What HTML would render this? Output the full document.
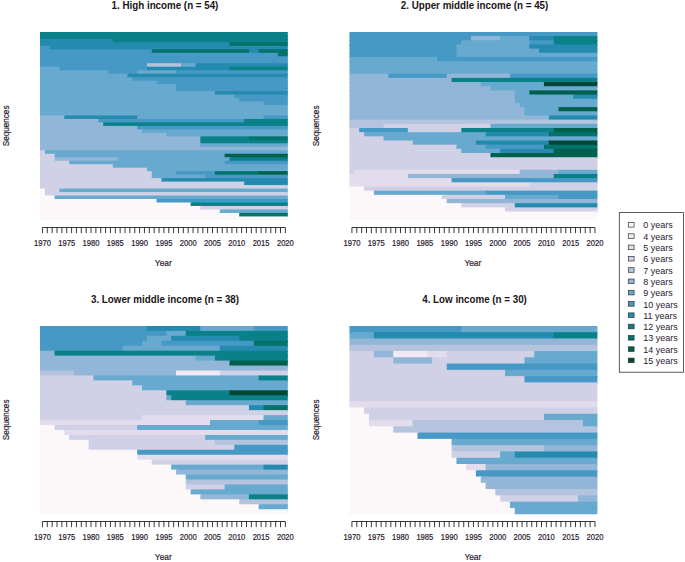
<!DOCTYPE html>
<html><head><meta charset="utf-8"><title>Sequence index plots</title>
<style>
html,body{margin:0;padding:0;background:#fff;}
body{width:685px;height:562px;overflow:hidden;font-family:"Liberation Sans",sans-serif;}
svg{display:block;font-family:"Liberation Sans",sans-serif;}
.tk{font-size:8.6px;fill:#2a2030;text-anchor:middle;stroke:#2a2030;stroke-width:0.2px;}
.al{font-size:9px;fill:#2a2030;text-anchor:middle;stroke:#2a2030;stroke-width:0.2px;}
.sq{font-size:8.4px;fill:#2a2030;text-anchor:middle;stroke:#2a2030;stroke-width:0.2px;}
.tt{font-size:10.2px;font-weight:bold;fill:#1a1418;text-anchor:middle;}
.lg{font-size:9.6px;fill:#2a2030;}
</style></head><body>
<svg width="685" height="562" viewBox="0 0 685 562">
<rect width="685" height="562" fill="#fff"/>
<clipPath id="c0"><rect x="40.00" y="31.90" width="247.80" height="188.00"/></clipPath>
<g clip-path="url(#c0)"><rect x="38.00" y="29.90" width="251.80" height="6.98" fill="#0A8089"/><rect x="38.00" y="35.38" width="251.80" height="4.98" fill="#0A8089"/><rect x="38.00" y="38.86" width="76.38" height="4.98" fill="#258BAE"/><rect x="112.88" y="38.86" width="176.92" height="4.98" fill="#0A8089"/><rect x="38.00" y="42.34" width="192.99" height="4.98" fill="#258BAE"/><rect x="229.49" y="42.34" width="60.31" height="4.98" fill="#017369"/><rect x="38.00" y="45.83" width="13.22" height="4.98" fill="#4698C5"/><rect x="49.72" y="45.83" width="240.08" height="4.98" fill="#258BAE"/><rect x="38.00" y="49.31" width="115.25" height="4.98" fill="#4698C5"/><rect x="151.75" y="49.31" width="98.68" height="4.98" fill="#017369"/><rect x="248.93" y="49.31" width="11.22" height="4.98" fill="#258BAE"/><rect x="258.65" y="49.31" width="31.15" height="4.98" fill="#017369"/><rect x="38.00" y="52.79" width="241.58" height="4.98" fill="#4698C5"/><rect x="278.08" y="52.79" width="11.72" height="4.98" fill="#017369"/><rect x="38.00" y="56.27" width="251.80" height="4.98" fill="#4698C5"/><rect x="38.00" y="59.75" width="251.80" height="4.98" fill="#4698C5"/><rect x="38.00" y="63.23" width="110.39" height="4.98" fill="#4698C5"/><rect x="146.89" y="63.23" width="35.51" height="4.98" fill="#B4C4DF"/><rect x="180.91" y="63.23" width="16.08" height="4.98" fill="#67A9CF"/><rect x="195.48" y="63.23" width="94.32" height="4.98" fill="#258BAE"/><rect x="38.00" y="66.71" width="22.94" height="4.98" fill="#67A9CF"/><rect x="59.44" y="66.71" width="88.96" height="4.98" fill="#4698C5"/><rect x="146.89" y="66.71" width="84.10" height="4.98" fill="#258BAE"/><rect x="229.49" y="66.71" width="60.31" height="4.98" fill="#0A8089"/><rect x="38.00" y="70.20" width="71.52" height="4.98" fill="#67A9CF"/><rect x="108.02" y="70.20" width="30.65" height="4.98" fill="#4698C5"/><rect x="137.18" y="70.20" width="40.37" height="4.98" fill="#67A9CF"/><rect x="176.05" y="70.20" width="113.75" height="4.98" fill="#4698C5"/><rect x="38.00" y="73.68" width="90.96" height="4.98" fill="#67A9CF"/><rect x="127.46" y="73.68" width="162.34" height="4.98" fill="#258BAE"/><rect x="38.00" y="77.16" width="95.82" height="4.98" fill="#67A9CF"/><rect x="132.32" y="77.16" width="157.48" height="4.98" fill="#4698C5"/><rect x="38.00" y="80.64" width="120.11" height="4.98" fill="#67A9CF"/><rect x="156.61" y="80.64" width="133.19" height="4.98" fill="#4698C5"/><rect x="38.00" y="84.12" width="139.55" height="4.98" fill="#67A9CF"/><rect x="176.05" y="84.12" width="113.75" height="4.98" fill="#4698C5"/><rect x="38.00" y="87.60" width="139.55" height="4.98" fill="#67A9CF"/><rect x="176.05" y="87.60" width="113.75" height="4.98" fill="#4698C5"/><rect x="38.00" y="91.09" width="178.42" height="4.98" fill="#67A9CF"/><rect x="214.92" y="91.09" width="74.88" height="4.98" fill="#258BAE"/><rect x="38.00" y="94.57" width="197.85" height="4.98" fill="#67A9CF"/><rect x="234.35" y="94.57" width="55.45" height="4.98" fill="#4698C5"/><rect x="38.00" y="98.05" width="202.71" height="4.98" fill="#67A9CF"/><rect x="239.21" y="98.05" width="50.59" height="4.98" fill="#4698C5"/><rect x="38.00" y="101.53" width="227.01" height="4.98" fill="#67A9CF"/><rect x="263.51" y="101.53" width="26.29" height="4.98" fill="#4698C5"/><rect x="38.00" y="105.01" width="251.80" height="4.98" fill="#67A9CF"/><rect x="38.00" y="108.49" width="251.80" height="4.98" fill="#67A9CF"/><rect x="38.00" y="111.97" width="251.80" height="4.98" fill="#67A9CF"/><rect x="38.00" y="115.46" width="27.79" height="4.98" fill="#91B6D7"/><rect x="64.29" y="115.46" width="74.38" height="4.98" fill="#258BAE"/><rect x="137.18" y="115.46" width="127.83" height="4.98" fill="#67A9CF"/><rect x="263.51" y="115.46" width="26.29" height="4.98" fill="#4698C5"/><rect x="38.00" y="118.94" width="61.81" height="4.98" fill="#91B6D7"/><rect x="98.31" y="118.94" width="147.26" height="4.98" fill="#4698C5"/><rect x="244.07" y="118.94" width="45.73" height="4.98" fill="#0A8089"/><rect x="38.00" y="122.42" width="66.66" height="4.98" fill="#91B6D7"/><rect x="103.16" y="122.42" width="186.64" height="4.98" fill="#0A8089"/><rect x="38.00" y="125.90" width="100.68" height="4.98" fill="#91B6D7"/><rect x="137.18" y="125.90" width="152.62" height="4.98" fill="#4698C5"/><rect x="38.00" y="129.38" width="105.54" height="4.98" fill="#91B6D7"/><rect x="142.04" y="129.38" width="147.76" height="4.98" fill="#67A9CF"/><rect x="38.00" y="132.86" width="129.83" height="4.98" fill="#91B6D7"/><rect x="166.33" y="132.86" width="123.47" height="4.98" fill="#67A9CF"/><rect x="38.00" y="136.34" width="163.84" height="4.98" fill="#91B6D7"/><rect x="200.34" y="136.34" width="50.09" height="4.98" fill="#0A8089"/><rect x="248.93" y="136.34" width="40.87" height="4.98" fill="#017369"/><rect x="38.00" y="139.83" width="163.84" height="4.98" fill="#91B6D7"/><rect x="200.34" y="139.83" width="89.46" height="4.98" fill="#0A8089"/><rect x="38.00" y="143.31" width="163.84" height="4.98" fill="#91B6D7"/><rect x="200.34" y="143.31" width="89.46" height="4.98" fill="#67A9CF"/><rect x="38.00" y="146.79" width="251.80" height="4.98" fill="#91B6D7"/><rect x="38.00" y="150.27" width="8.36" height="4.98" fill="#D0D1E6"/><rect x="44.86" y="150.27" width="244.94" height="4.98" fill="#67A9CF"/><rect x="38.00" y="153.75" width="18.08" height="4.98" fill="#D0D1E6"/><rect x="54.58" y="153.75" width="171.56" height="4.98" fill="#67A9CF"/><rect x="224.64" y="153.75" width="65.16" height="4.98" fill="#015F4D"/><rect x="38.00" y="157.23" width="18.08" height="4.98" fill="#D0D1E6"/><rect x="54.58" y="157.23" width="64.66" height="4.98" fill="#91B6D7"/><rect x="117.74" y="157.23" width="113.25" height="4.98" fill="#67A9CF"/><rect x="229.49" y="157.23" width="60.31" height="4.98" fill="#0A8089"/><rect x="38.00" y="160.71" width="32.65" height="4.98" fill="#D0D1E6"/><rect x="69.15" y="160.71" width="156.98" height="4.98" fill="#67A9CF"/><rect x="224.64" y="160.71" width="65.16" height="4.98" fill="#4698C5"/><rect x="38.00" y="164.20" width="76.38" height="4.98" fill="#D0D1E6"/><rect x="112.88" y="164.20" width="176.92" height="4.98" fill="#67A9CF"/><rect x="38.00" y="167.68" width="110.39" height="4.98" fill="#D0D1E6"/><rect x="146.89" y="167.68" width="142.91" height="4.98" fill="#67A9CF"/><rect x="38.00" y="171.16" width="115.25" height="4.98" fill="#D0D1E6"/><rect x="151.75" y="171.16" width="25.79" height="4.98" fill="#67A9CF"/><rect x="176.05" y="171.16" width="40.37" height="4.98" fill="#4698C5"/><rect x="214.92" y="171.16" width="45.23" height="4.98" fill="#017369"/><rect x="258.65" y="171.16" width="31.15" height="4.98" fill="#015F4D"/><rect x="38.00" y="174.64" width="115.25" height="4.98" fill="#D0D1E6"/><rect x="151.75" y="174.64" width="54.95" height="4.98" fill="#67A9CF"/><rect x="205.20" y="174.64" width="84.60" height="4.98" fill="#4698C5"/><rect x="38.00" y="178.12" width="124.97" height="4.98" fill="#D0D1E6"/><rect x="161.47" y="178.12" width="128.33" height="4.98" fill="#258BAE"/><rect x="38.00" y="181.60" width="207.57" height="4.98" fill="#D0D1E6"/><rect x="244.07" y="181.60" width="45.73" height="4.98" fill="#258BAE"/><rect x="38.00" y="185.09" width="251.80" height="4.98" fill="#D0D1E6"/><rect x="38.00" y="188.57" width="8.36" height="4.98" fill="#FCF8F9"/><rect x="44.86" y="188.57" width="16.08" height="4.98" fill="#D0D1E6"/><rect x="59.44" y="188.57" width="230.36" height="4.98" fill="#67A9CF"/><rect x="38.00" y="192.05" width="8.36" height="4.98" fill="#FCF8F9"/><rect x="44.86" y="192.05" width="244.94" height="4.98" fill="#D0D1E6"/><rect x="38.00" y="195.53" width="18.08" height="4.98" fill="#FCF8F9"/><rect x="54.58" y="195.53" width="235.22" height="4.98" fill="#67A9CF"/><rect x="38.00" y="199.01" width="120.11" height="4.98" fill="#FCF8F9"/><rect x="156.61" y="199.01" width="133.19" height="4.98" fill="#4698C5"/><rect x="38.00" y="202.49" width="154.12" height="4.98" fill="#FCF8F9"/><rect x="190.62" y="202.49" width="99.18" height="4.98" fill="#0A8089"/><rect x="38.00" y="205.97" width="163.84" height="4.98" fill="#FCF8F9"/><rect x="200.34" y="205.97" width="89.46" height="4.98" fill="#D0D1E6"/><rect x="38.00" y="209.46" width="183.28" height="4.98" fill="#FCF8F9"/><rect x="219.78" y="209.46" width="70.02" height="4.98" fill="#67A9CF"/><rect x="38.00" y="212.94" width="202.71" height="4.98" fill="#FCF8F9"/><rect x="239.21" y="212.94" width="50.59" height="4.98" fill="#017369"/><rect x="38.00" y="216.42" width="251.80" height="4.98" fill="#FCF8F9"/></g>
<path d="M42.43 227.50H285.37M42.43 227.50v5.60M47.29 227.50v5.60M52.15 227.50v5.60M57.01 227.50v5.60M61.86 227.50v5.60M66.72 227.50v5.60M71.58 227.50v5.60M76.44 227.50v5.60M81.30 227.50v5.60M86.16 227.50v5.60M91.02 227.50v5.60M95.88 227.50v5.60M100.74 227.50v5.60M105.59 227.50v5.60M110.45 227.50v5.60M115.31 227.50v5.60M120.17 227.50v5.60M125.03 227.50v5.60M129.89 227.50v5.60M134.75 227.50v5.60M139.61 227.50v5.60M144.46 227.50v5.60M149.32 227.50v5.60M154.18 227.50v5.60M159.04 227.50v5.60M163.90 227.50v5.60M168.76 227.50v5.60M173.62 227.50v5.60M178.48 227.50v5.60M183.34 227.50v5.60M188.19 227.50v5.60M193.05 227.50v5.60M197.91 227.50v5.60M202.77 227.50v5.60M207.63 227.50v5.60M212.49 227.50v5.60M217.35 227.50v5.60M222.21 227.50v5.60M227.06 227.50v5.60M231.92 227.50v5.60M236.78 227.50v5.60M241.64 227.50v5.60M246.50 227.50v5.60M251.36 227.50v5.60M256.22 227.50v5.60M261.08 227.50v5.60M265.94 227.50v5.60M270.79 227.50v5.60M275.65 227.50v5.60M280.51 227.50v5.60M285.37 227.50v5.60" stroke="#222" stroke-width="0.9" fill="none"/>
<text transform="translate(42.43 246.00) scale(0.885 1)" class="tk">1970</text>
<text transform="translate(66.72 246.00) scale(0.885 1)" class="tk">1975</text>
<text transform="translate(91.02 246.00) scale(0.885 1)" class="tk">1980</text>
<text transform="translate(115.31 246.00) scale(0.885 1)" class="tk">1985</text>
<text transform="translate(139.61 246.00) scale(0.885 1)" class="tk">1990</text>
<text transform="translate(163.90 246.00) scale(0.885 1)" class="tk">1995</text>
<text transform="translate(188.19 246.00) scale(0.885 1)" class="tk">2000</text>
<text transform="translate(212.49 246.00) scale(0.885 1)" class="tk">2005</text>
<text transform="translate(236.78 246.00) scale(0.885 1)" class="tk">2010</text>
<text transform="translate(261.08 246.00) scale(0.885 1)" class="tk">2015</text>
<text transform="translate(285.37 246.00) scale(0.885 1)" class="tk">2020</text>
<text transform="translate(163.30 265.90) scale(0.930 1)" class="al">Year</text>
<text transform="translate(165.00 8.80) scale(0.960 1)" class="tt">1. High income (n = 54)</text>
<text transform="translate(9.20 125.90) rotate(-90) scale(0.970 1)" class="sq">Sequences</text>
<clipPath id="c1"><rect x="349.50" y="31.90" width="247.90" height="188.00"/></clipPath>
<g clip-path="url(#c1)"><rect x="347.50" y="29.90" width="251.90" height="7.68" fill="#4698C5"/><rect x="347.50" y="36.08" width="125.02" height="5.68" fill="#4698C5"/><rect x="471.02" y="36.08" width="30.66" height="5.68" fill="#91B6D7"/><rect x="500.18" y="36.08" width="30.66" height="5.68" fill="#67A9CF"/><rect x="529.35" y="36.08" width="25.80" height="5.68" fill="#258BAE"/><rect x="553.65" y="36.08" width="45.75" height="5.68" fill="#0A8089"/><rect x="347.50" y="40.26" width="115.30" height="5.68" fill="#4698C5"/><rect x="461.30" y="40.26" width="69.55" height="5.68" fill="#67A9CF"/><rect x="529.35" y="40.26" width="25.80" height="5.68" fill="#4698C5"/><rect x="553.65" y="40.26" width="45.75" height="5.68" fill="#0A8089"/><rect x="347.50" y="44.43" width="110.44" height="5.68" fill="#4698C5"/><rect x="456.44" y="44.43" width="74.41" height="5.68" fill="#67A9CF"/><rect x="529.35" y="44.43" width="70.05" height="5.68" fill="#258BAE"/><rect x="347.50" y="48.61" width="110.44" height="5.68" fill="#4698C5"/><rect x="456.44" y="48.61" width="84.13" height="5.68" fill="#67A9CF"/><rect x="539.07" y="48.61" width="60.33" height="5.68" fill="#258BAE"/><rect x="347.50" y="52.79" width="110.44" height="5.68" fill="#4698C5"/><rect x="456.44" y="52.79" width="142.96" height="5.68" fill="#67A9CF"/><rect x="347.50" y="56.97" width="90.99" height="5.68" fill="#67A9CF"/><rect x="436.99" y="56.97" width="162.41" height="5.68" fill="#4698C5"/><rect x="347.50" y="61.14" width="251.90" height="5.68" fill="#67A9CF"/><rect x="347.50" y="65.32" width="251.90" height="5.68" fill="#67A9CF"/><rect x="347.50" y="69.50" width="251.90" height="5.68" fill="#67A9CF"/><rect x="347.50" y="73.68" width="42.39" height="5.68" fill="#91B6D7"/><rect x="388.39" y="73.68" width="59.83" height="5.68" fill="#4698C5"/><rect x="446.72" y="73.68" width="64.69" height="5.68" fill="#91B6D7"/><rect x="509.91" y="73.68" width="89.49" height="5.68" fill="#4698C5"/><rect x="347.50" y="77.86" width="105.58" height="5.68" fill="#91B6D7"/><rect x="451.58" y="77.86" width="147.82" height="5.68" fill="#0A8089"/><rect x="347.50" y="82.03" width="134.74" height="5.68" fill="#91B6D7"/><rect x="480.74" y="82.03" width="64.69" height="5.68" fill="#67A9CF"/><rect x="543.93" y="82.03" width="55.47" height="5.68" fill="#014636"/><rect x="347.50" y="86.21" width="144.46" height="5.68" fill="#91B6D7"/><rect x="490.46" y="86.21" width="108.94" height="5.68" fill="#67A9CF"/><rect x="347.50" y="90.39" width="168.77" height="5.68" fill="#91B6D7"/><rect x="514.77" y="90.39" width="16.08" height="5.68" fill="#67A9CF"/><rect x="529.35" y="90.39" width="70.05" height="5.68" fill="#015F4D"/><rect x="347.50" y="94.57" width="168.77" height="5.68" fill="#91B6D7"/><rect x="514.77" y="94.57" width="59.83" height="5.68" fill="#67A9CF"/><rect x="573.10" y="94.57" width="26.30" height="5.68" fill="#258BAE"/><rect x="347.50" y="98.74" width="168.77" height="5.68" fill="#91B6D7"/><rect x="514.77" y="98.74" width="84.63" height="5.68" fill="#67A9CF"/><rect x="347.50" y="102.92" width="173.63" height="5.68" fill="#91B6D7"/><rect x="519.63" y="102.92" width="79.77" height="5.68" fill="#67A9CF"/><rect x="347.50" y="107.10" width="178.49" height="5.68" fill="#91B6D7"/><rect x="524.49" y="107.10" width="35.53" height="5.68" fill="#67A9CF"/><rect x="558.51" y="107.10" width="40.89" height="5.68" fill="#015F4D"/><rect x="347.50" y="111.28" width="178.49" height="5.68" fill="#91B6D7"/><rect x="524.49" y="111.28" width="74.91" height="5.68" fill="#67A9CF"/><rect x="347.50" y="115.46" width="202.79" height="5.68" fill="#91B6D7"/><rect x="548.79" y="115.46" width="50.61" height="5.68" fill="#258BAE"/><rect x="347.50" y="119.63" width="251.90" height="5.68" fill="#B4C4DF"/><rect x="347.50" y="123.81" width="37.53" height="5.68" fill="#B4C4DF"/><rect x="383.53" y="123.81" width="108.44" height="5.68" fill="#D0D1E6"/><rect x="490.46" y="123.81" width="108.94" height="5.68" fill="#67A9CF"/><rect x="347.50" y="127.99" width="13.22" height="5.68" fill="#D0D1E6"/><rect x="359.22" y="127.99" width="50.11" height="5.68" fill="#4698C5"/><rect x="407.83" y="127.99" width="54.97" height="5.68" fill="#D0D1E6"/><rect x="461.30" y="127.99" width="93.85" height="5.68" fill="#0A8089"/><rect x="553.65" y="127.99" width="45.75" height="5.68" fill="#015F4D"/><rect x="347.50" y="132.17" width="18.08" height="5.68" fill="#D0D1E6"/><rect x="364.08" y="132.17" width="123.02" height="5.68" fill="#67A9CF"/><rect x="485.60" y="132.17" width="64.69" height="5.68" fill="#258BAE"/><rect x="548.79" y="132.17" width="50.61" height="5.68" fill="#017369"/><rect x="347.50" y="136.34" width="37.53" height="5.68" fill="#D0D1E6"/><rect x="383.53" y="136.34" width="215.87" height="5.68" fill="#67A9CF"/><rect x="347.50" y="140.52" width="66.69" height="5.68" fill="#D0D1E6"/><rect x="412.69" y="140.52" width="64.69" height="5.68" fill="#67A9CF"/><rect x="475.88" y="140.52" width="74.41" height="5.68" fill="#258BAE"/><rect x="548.79" y="140.52" width="50.61" height="5.68" fill="#014636"/><rect x="347.50" y="144.70" width="110.44" height="5.68" fill="#D0D1E6"/><rect x="456.44" y="144.70" width="30.66" height="5.68" fill="#67A9CF"/><rect x="485.60" y="144.70" width="59.83" height="5.68" fill="#4698C5"/><rect x="543.93" y="144.70" width="55.47" height="5.68" fill="#017369"/><rect x="347.50" y="148.88" width="115.30" height="5.68" fill="#D0D1E6"/><rect x="461.30" y="148.88" width="40.39" height="5.68" fill="#67A9CF"/><rect x="500.18" y="148.88" width="54.97" height="5.68" fill="#258BAE"/><rect x="553.65" y="148.88" width="45.75" height="5.68" fill="#015F4D"/><rect x="347.50" y="153.06" width="144.46" height="5.68" fill="#D0D1E6"/><rect x="490.46" y="153.06" width="108.94" height="5.68" fill="#015F4D"/><rect x="347.50" y="157.23" width="251.90" height="5.68" fill="#D0D1E6"/><rect x="347.50" y="161.41" width="251.90" height="5.68" fill="#D0D1E6"/><rect x="347.50" y="165.59" width="251.90" height="5.68" fill="#D0D1E6"/><rect x="347.50" y="169.77" width="8.36" height="5.68" fill="#D0D1E6"/><rect x="354.36" y="169.77" width="166.77" height="5.68" fill="#E3DCED"/><rect x="519.63" y="169.77" width="40.39" height="5.68" fill="#91B6D7"/><rect x="558.51" y="169.77" width="40.89" height="5.68" fill="#67A9CF"/><rect x="347.50" y="173.94" width="61.83" height="5.68" fill="#E3DCED"/><rect x="407.83" y="173.94" width="147.32" height="5.68" fill="#91B6D7"/><rect x="553.65" y="173.94" width="45.75" height="5.68" fill="#0A8089"/><rect x="347.50" y="178.12" width="105.58" height="5.68" fill="#E3DCED"/><rect x="451.58" y="178.12" width="147.82" height="5.68" fill="#4698C5"/><rect x="347.50" y="182.30" width="183.35" height="5.68" fill="#E3DCED"/><rect x="529.35" y="182.30" width="70.05" height="5.68" fill="#D0D1E6"/><rect x="347.50" y="186.48" width="18.08" height="5.68" fill="#FCF8F9"/><rect x="364.08" y="186.48" width="235.32" height="5.68" fill="#D0D1E6"/><rect x="347.50" y="190.66" width="27.80" height="5.68" fill="#FCF8F9"/><rect x="373.80" y="190.66" width="113.30" height="5.68" fill="#67A9CF"/><rect x="485.60" y="190.66" width="113.80" height="5.68" fill="#4698C5"/><rect x="347.50" y="194.83" width="95.85" height="5.68" fill="#FCF8F9"/><rect x="441.85" y="194.83" width="64.69" height="5.68" fill="#D0D1E6"/><rect x="505.05" y="194.83" width="54.97" height="5.68" fill="#67A9CF"/><rect x="558.51" y="194.83" width="40.89" height="5.68" fill="#4698C5"/><rect x="347.50" y="199.01" width="100.72" height="5.68" fill="#FCF8F9"/><rect x="446.72" y="199.01" width="152.68" height="5.68" fill="#91B6D7"/><rect x="347.50" y="203.19" width="115.30" height="5.68" fill="#FCF8F9"/><rect x="461.30" y="203.19" width="54.97" height="5.68" fill="#D0D1E6"/><rect x="514.77" y="203.19" width="84.63" height="5.68" fill="#258BAE"/><rect x="347.50" y="207.37" width="159.05" height="5.68" fill="#FCF8F9"/><rect x="505.05" y="207.37" width="94.35" height="5.68" fill="#D0D1E6"/><rect x="347.50" y="211.54" width="251.90" height="5.68" fill="#FCF8F9"/><rect x="347.50" y="215.72" width="251.90" height="5.68" fill="#FCF8F9"/></g>
<path d="M351.93 227.50H594.97M351.93 227.50v5.60M356.79 227.50v5.60M361.65 227.50v5.60M366.51 227.50v5.60M371.37 227.50v5.60M376.23 227.50v5.60M381.10 227.50v5.60M385.96 227.50v5.60M390.82 227.50v5.60M395.68 227.50v5.60M400.54 227.50v5.60M405.40 227.50v5.60M410.26 227.50v5.60M415.12 227.50v5.60M419.98 227.50v5.60M424.84 227.50v5.60M429.70 227.50v5.60M434.56 227.50v5.60M439.42 227.50v5.60M444.29 227.50v5.60M449.15 227.50v5.60M454.01 227.50v5.60M458.87 227.50v5.60M463.73 227.50v5.60M468.59 227.50v5.60M473.45 227.50v5.60M478.31 227.50v5.60M483.17 227.50v5.60M488.03 227.50v5.60M492.89 227.50v5.60M497.75 227.50v5.60M502.61 227.50v5.60M507.48 227.50v5.60M512.34 227.50v5.60M517.20 227.50v5.60M522.06 227.50v5.60M526.92 227.50v5.60M531.78 227.50v5.60M536.64 227.50v5.60M541.50 227.50v5.60M546.36 227.50v5.60M551.22 227.50v5.60M556.08 227.50v5.60M560.94 227.50v5.60M565.80 227.50v5.60M570.67 227.50v5.60M575.53 227.50v5.60M580.39 227.50v5.60M585.25 227.50v5.60M590.11 227.50v5.60M594.97 227.50v5.60" stroke="#222" stroke-width="0.9" fill="none"/>
<text transform="translate(351.93 246.00) scale(0.885 1)" class="tk">1970</text>
<text transform="translate(376.23 246.00) scale(0.885 1)" class="tk">1975</text>
<text transform="translate(400.54 246.00) scale(0.885 1)" class="tk">1980</text>
<text transform="translate(424.84 246.00) scale(0.885 1)" class="tk">1985</text>
<text transform="translate(449.15 246.00) scale(0.885 1)" class="tk">1990</text>
<text transform="translate(473.45 246.00) scale(0.885 1)" class="tk">1995</text>
<text transform="translate(497.75 246.00) scale(0.885 1)" class="tk">2000</text>
<text transform="translate(522.06 246.00) scale(0.885 1)" class="tk">2005</text>
<text transform="translate(546.36 246.00) scale(0.885 1)" class="tk">2010</text>
<text transform="translate(570.67 246.00) scale(0.885 1)" class="tk">2015</text>
<text transform="translate(594.97 246.00) scale(0.885 1)" class="tk">2020</text>
<text transform="translate(472.85 265.90) scale(0.930 1)" class="al">Year</text>
<text transform="translate(474.55 8.80) scale(0.960 1)" class="tt">2. Upper middle income (n = 45)</text>
<text transform="translate(318.70 125.90) rotate(-90) scale(0.970 1)" class="sq">Sequences</text>
<clipPath id="c2"><rect x="40.00" y="325.90" width="247.80" height="188.30"/></clipPath>
<g clip-path="url(#c2)"><rect x="38.00" y="323.90" width="110.39" height="8.46" fill="#4698C5"/><rect x="146.89" y="323.90" width="54.95" height="8.46" fill="#258BAE"/><rect x="200.34" y="323.90" width="54.95" height="8.46" fill="#67A9CF"/><rect x="253.79" y="323.90" width="36.01" height="8.46" fill="#4698C5"/><rect x="38.00" y="330.86" width="129.83" height="6.46" fill="#4698C5"/><rect x="166.33" y="330.86" width="20.94" height="6.46" fill="#67A9CF"/><rect x="185.76" y="330.86" width="104.04" height="6.46" fill="#0A8089"/><rect x="38.00" y="335.81" width="110.39" height="6.46" fill="#4698C5"/><rect x="146.89" y="335.81" width="25.79" height="6.46" fill="#67A9CF"/><rect x="171.19" y="335.81" width="69.52" height="6.46" fill="#258BAE"/><rect x="239.21" y="335.81" width="50.59" height="6.46" fill="#0A8089"/><rect x="38.00" y="340.77" width="105.54" height="6.46" fill="#4698C5"/><rect x="142.04" y="340.77" width="20.94" height="6.46" fill="#67A9CF"/><rect x="161.47" y="340.77" width="93.82" height="6.46" fill="#4698C5"/><rect x="253.79" y="340.77" width="36.01" height="6.46" fill="#017369"/><rect x="38.00" y="345.72" width="86.10" height="6.46" fill="#4698C5"/><rect x="122.60" y="345.72" width="98.68" height="6.46" fill="#67A9CF"/><rect x="219.78" y="345.72" width="70.02" height="6.46" fill="#258BAE"/><rect x="38.00" y="350.68" width="18.08" height="6.46" fill="#91B6D7"/><rect x="54.58" y="350.68" width="235.22" height="6.46" fill="#0A8089"/><rect x="38.00" y="355.63" width="158.98" height="6.46" fill="#91B6D7"/><rect x="195.48" y="355.63" width="20.94" height="6.46" fill="#67A9CF"/><rect x="214.92" y="355.63" width="74.88" height="6.46" fill="#0A8089"/><rect x="38.00" y="360.59" width="192.99" height="6.46" fill="#91B6D7"/><rect x="229.49" y="360.59" width="60.31" height="6.46" fill="#015F4D"/><rect x="38.00" y="365.54" width="251.80" height="6.46" fill="#91B6D7"/><rect x="38.00" y="370.50" width="37.51" height="6.46" fill="#B4C4DF"/><rect x="74.01" y="370.50" width="103.54" height="6.46" fill="#91B6D7"/><rect x="176.05" y="370.50" width="45.23" height="6.46" fill="#F2E9F4"/><rect x="219.78" y="370.50" width="70.02" height="6.46" fill="#D0D1E6"/><rect x="38.00" y="375.45" width="56.95" height="6.46" fill="#D0D1E6"/><rect x="93.45" y="375.45" width="166.70" height="6.46" fill="#67A9CF"/><rect x="258.65" y="375.45" width="31.15" height="6.46" fill="#0A8089"/><rect x="38.00" y="380.41" width="95.82" height="6.46" fill="#D0D1E6"/><rect x="132.32" y="380.41" width="157.48" height="6.46" fill="#67A9CF"/><rect x="38.00" y="385.36" width="105.54" height="6.46" fill="#D0D1E6"/><rect x="142.04" y="385.36" width="147.76" height="6.46" fill="#67A9CF"/><rect x="38.00" y="390.32" width="129.83" height="6.46" fill="#D0D1E6"/><rect x="166.33" y="390.32" width="64.66" height="6.46" fill="#0A8089"/><rect x="229.49" y="390.32" width="60.31" height="6.46" fill="#014636"/><rect x="38.00" y="395.27" width="129.83" height="6.46" fill="#D0D1E6"/><rect x="166.33" y="395.27" width="6.36" height="6.46" fill="#67A9CF"/><rect x="171.19" y="395.27" width="118.61" height="6.46" fill="#0A8089"/><rect x="38.00" y="400.23" width="149.26" height="6.46" fill="#D0D1E6"/><rect x="185.76" y="400.23" width="104.04" height="6.46" fill="#67A9CF"/><rect x="38.00" y="405.18" width="212.43" height="6.46" fill="#D0D1E6"/><rect x="248.93" y="405.18" width="16.08" height="6.46" fill="#258BAE"/><rect x="263.51" y="405.18" width="26.29" height="6.46" fill="#017369"/><rect x="38.00" y="410.14" width="251.80" height="6.46" fill="#D0D1E6"/><rect x="38.00" y="415.09" width="105.54" height="6.46" fill="#D0D1E6"/><rect x="142.04" y="415.09" width="122.97" height="6.46" fill="#E3DCED"/><rect x="263.51" y="415.09" width="26.29" height="6.46" fill="#67A9CF"/><rect x="38.00" y="420.05" width="173.56" height="6.46" fill="#E3DCED"/><rect x="210.06" y="420.05" width="50.09" height="6.46" fill="#67A9CF"/><rect x="258.65" y="420.05" width="31.15" height="6.46" fill="#4698C5"/><rect x="38.00" y="425.01" width="18.08" height="6.46" fill="#FCF8F9"/><rect x="54.58" y="425.01" width="84.10" height="6.46" fill="#D0D1E6"/><rect x="137.18" y="425.01" width="152.62" height="6.46" fill="#67A9CF"/><rect x="38.00" y="429.96" width="27.79" height="6.46" fill="#FCF8F9"/><rect x="64.29" y="429.96" width="225.51" height="6.46" fill="#E3DCED"/><rect x="38.00" y="434.92" width="32.65" height="6.46" fill="#FCF8F9"/><rect x="69.15" y="434.92" width="137.55" height="6.46" fill="#D0D1E6"/><rect x="205.20" y="434.92" width="84.60" height="6.46" fill="#67A9CF"/><rect x="38.00" y="439.87" width="52.09" height="6.46" fill="#FCF8F9"/><rect x="88.59" y="439.87" width="127.83" height="6.46" fill="#D0D1E6"/><rect x="214.92" y="439.87" width="74.88" height="6.46" fill="#B4C4DF"/><rect x="38.00" y="444.83" width="52.09" height="6.46" fill="#FCF8F9"/><rect x="88.59" y="444.83" width="147.26" height="6.46" fill="#D0D1E6"/><rect x="234.35" y="444.83" width="55.45" height="6.46" fill="#4698C5"/><rect x="38.00" y="449.78" width="100.68" height="6.46" fill="#FCF8F9"/><rect x="137.18" y="449.78" width="152.62" height="6.46" fill="#4698C5"/><rect x="38.00" y="454.74" width="100.68" height="6.46" fill="#FCF8F9"/><rect x="137.18" y="454.74" width="152.62" height="6.46" fill="#E3DCED"/><rect x="38.00" y="459.69" width="115.25" height="6.46" fill="#FCF8F9"/><rect x="151.75" y="459.69" width="138.05" height="6.46" fill="#D0D1E6"/><rect x="38.00" y="464.65" width="134.69" height="6.46" fill="#FCF8F9"/><rect x="171.19" y="464.65" width="93.82" height="6.46" fill="#67A9CF"/><rect x="263.51" y="464.65" width="26.29" height="6.46" fill="#258BAE"/><rect x="38.00" y="469.60" width="139.55" height="6.46" fill="#FCF8F9"/><rect x="176.05" y="469.60" width="113.75" height="6.46" fill="#91B6D7"/><rect x="38.00" y="474.56" width="149.26" height="6.46" fill="#FCF8F9"/><rect x="185.76" y="474.56" width="104.04" height="6.46" fill="#67A9CF"/><rect x="38.00" y="479.51" width="149.26" height="6.46" fill="#FCF8F9"/><rect x="185.76" y="479.51" width="104.04" height="6.46" fill="#B4C4DF"/><rect x="38.00" y="484.47" width="149.26" height="6.46" fill="#FCF8F9"/><rect x="185.76" y="484.47" width="40.37" height="6.46" fill="#D0D1E6"/><rect x="224.64" y="484.47" width="65.16" height="6.46" fill="#67A9CF"/><rect x="38.00" y="489.42" width="154.12" height="6.46" fill="#FCF8F9"/><rect x="190.62" y="489.42" width="99.18" height="6.46" fill="#67A9CF"/><rect x="38.00" y="494.38" width="163.84" height="6.46" fill="#FCF8F9"/><rect x="200.34" y="494.38" width="50.09" height="6.46" fill="#91B6D7"/><rect x="248.93" y="494.38" width="40.87" height="6.46" fill="#0A8089"/><rect x="38.00" y="499.33" width="202.71" height="6.46" fill="#FCF8F9"/><rect x="239.21" y="499.33" width="50.59" height="6.46" fill="#B4C4DF"/><rect x="38.00" y="504.29" width="222.15" height="6.46" fill="#FCF8F9"/><rect x="258.65" y="504.29" width="31.15" height="6.46" fill="#67A9CF"/><rect x="38.00" y="509.24" width="251.80" height="6.46" fill="#FCF8F9"/></g>
<path d="M42.43 521.50H285.37M42.43 521.50v5.60M47.29 521.50v5.60M52.15 521.50v5.60M57.01 521.50v5.60M61.86 521.50v5.60M66.72 521.50v5.60M71.58 521.50v5.60M76.44 521.50v5.60M81.30 521.50v5.60M86.16 521.50v5.60M91.02 521.50v5.60M95.88 521.50v5.60M100.74 521.50v5.60M105.59 521.50v5.60M110.45 521.50v5.60M115.31 521.50v5.60M120.17 521.50v5.60M125.03 521.50v5.60M129.89 521.50v5.60M134.75 521.50v5.60M139.61 521.50v5.60M144.46 521.50v5.60M149.32 521.50v5.60M154.18 521.50v5.60M159.04 521.50v5.60M163.90 521.50v5.60M168.76 521.50v5.60M173.62 521.50v5.60M178.48 521.50v5.60M183.34 521.50v5.60M188.19 521.50v5.60M193.05 521.50v5.60M197.91 521.50v5.60M202.77 521.50v5.60M207.63 521.50v5.60M212.49 521.50v5.60M217.35 521.50v5.60M222.21 521.50v5.60M227.06 521.50v5.60M231.92 521.50v5.60M236.78 521.50v5.60M241.64 521.50v5.60M246.50 521.50v5.60M251.36 521.50v5.60M256.22 521.50v5.60M261.08 521.50v5.60M265.94 521.50v5.60M270.79 521.50v5.60M275.65 521.50v5.60M280.51 521.50v5.60M285.37 521.50v5.60" stroke="#222" stroke-width="0.9" fill="none"/>
<text transform="translate(42.43 540.00) scale(0.885 1)" class="tk">1970</text>
<text transform="translate(66.72 540.00) scale(0.885 1)" class="tk">1975</text>
<text transform="translate(91.02 540.00) scale(0.885 1)" class="tk">1980</text>
<text transform="translate(115.31 540.00) scale(0.885 1)" class="tk">1985</text>
<text transform="translate(139.61 540.00) scale(0.885 1)" class="tk">1990</text>
<text transform="translate(163.90 540.00) scale(0.885 1)" class="tk">1995</text>
<text transform="translate(188.19 540.00) scale(0.885 1)" class="tk">2000</text>
<text transform="translate(212.49 540.00) scale(0.885 1)" class="tk">2005</text>
<text transform="translate(236.78 540.00) scale(0.885 1)" class="tk">2010</text>
<text transform="translate(261.08 540.00) scale(0.885 1)" class="tk">2015</text>
<text transform="translate(285.37 540.00) scale(0.885 1)" class="tk">2020</text>
<text transform="translate(163.30 559.90) scale(0.930 1)" class="al">Year</text>
<text transform="translate(165.00 302.80) scale(0.960 1)" class="tt">3. Lower middle income (n = 38)</text>
<text transform="translate(9.20 419.90) rotate(-90) scale(0.970 1)" class="sq">Sequences</text>
<clipPath id="c3"><rect x="349.50" y="325.90" width="247.90" height="188.30"/></clipPath>
<g clip-path="url(#c3)"><rect x="347.50" y="323.90" width="115.30" height="9.78" fill="#4698C5"/><rect x="461.30" y="323.90" width="138.10" height="9.78" fill="#67A9CF"/><rect x="347.50" y="332.18" width="27.80" height="7.78" fill="#67A9CF"/><rect x="373.80" y="332.18" width="181.35" height="7.78" fill="#258BAE"/><rect x="553.65" y="332.18" width="45.75" height="7.78" fill="#0A8089"/><rect x="347.50" y="338.45" width="251.90" height="7.78" fill="#91B6D7"/><rect x="347.50" y="344.73" width="251.90" height="7.78" fill="#B4C4DF"/><rect x="347.50" y="351.01" width="27.80" height="7.78" fill="#D0D1E6"/><rect x="373.80" y="351.01" width="20.94" height="7.78" fill="#91B6D7"/><rect x="393.25" y="351.01" width="35.53" height="7.78" fill="#F2E9F4"/><rect x="427.27" y="351.01" width="20.94" height="7.78" fill="#E3DCED"/><rect x="446.72" y="351.01" width="88.99" height="7.78" fill="#D0D1E6"/><rect x="534.21" y="351.01" width="65.19" height="7.78" fill="#67A9CF"/><rect x="347.50" y="357.28" width="47.25" height="7.78" fill="#D0D1E6"/><rect x="393.25" y="357.28" width="40.39" height="7.78" fill="#91B6D7"/><rect x="432.13" y="357.28" width="93.85" height="7.78" fill="#D0D1E6"/><rect x="524.49" y="357.28" width="74.91" height="7.78" fill="#67A9CF"/><rect x="347.50" y="363.56" width="100.72" height="7.78" fill="#D0D1E6"/><rect x="446.72" y="363.56" width="152.68" height="7.78" fill="#4698C5"/><rect x="347.50" y="369.84" width="159.05" height="7.78" fill="#D0D1E6"/><rect x="505.05" y="369.84" width="94.35" height="7.78" fill="#67A9CF"/><rect x="347.50" y="376.11" width="178.49" height="7.78" fill="#D0D1E6"/><rect x="524.49" y="376.11" width="74.91" height="7.78" fill="#4698C5"/><rect x="347.50" y="382.39" width="251.90" height="7.78" fill="#D0D1E6"/><rect x="347.50" y="388.67" width="251.90" height="7.78" fill="#D0D1E6"/><rect x="347.50" y="394.94" width="251.90" height="7.78" fill="#D0D1E6"/><rect x="347.50" y="401.22" width="251.90" height="7.78" fill="#E3DCED"/><rect x="347.50" y="407.50" width="18.08" height="7.78" fill="#FCF8F9"/><rect x="364.08" y="407.50" width="235.32" height="7.78" fill="#D0D1E6"/><rect x="347.50" y="413.77" width="22.94" height="7.78" fill="#FCF8F9"/><rect x="368.94" y="413.77" width="176.49" height="7.78" fill="#D0D1E6"/><rect x="543.93" y="413.77" width="55.47" height="7.78" fill="#67A9CF"/><rect x="347.50" y="420.05" width="22.94" height="7.78" fill="#FCF8F9"/><rect x="368.94" y="420.05" width="45.25" height="7.78" fill="#E3DCED"/><rect x="412.69" y="420.05" width="171.63" height="7.78" fill="#B4C4DF"/><rect x="582.82" y="420.05" width="16.58" height="7.78" fill="#67A9CF"/><rect x="347.50" y="426.33" width="47.25" height="7.78" fill="#FCF8F9"/><rect x="393.25" y="426.33" width="206.15" height="7.78" fill="#B4C4DF"/><rect x="347.50" y="432.60" width="71.55" height="7.78" fill="#FCF8F9"/><rect x="417.55" y="432.60" width="181.85" height="7.78" fill="#4698C5"/><rect x="347.50" y="438.88" width="105.58" height="7.78" fill="#FCF8F9"/><rect x="451.58" y="438.88" width="147.82" height="7.78" fill="#67A9CF"/><rect x="347.50" y="445.16" width="105.58" height="7.78" fill="#FCF8F9"/><rect x="451.58" y="445.16" width="93.85" height="7.78" fill="#B4C4DF"/><rect x="543.93" y="445.16" width="55.47" height="7.78" fill="#91B6D7"/><rect x="347.50" y="451.43" width="105.58" height="7.78" fill="#FCF8F9"/><rect x="451.58" y="451.43" width="50.11" height="7.78" fill="#D0D1E6"/><rect x="500.18" y="451.43" width="16.08" height="7.78" fill="#67A9CF"/><rect x="514.77" y="451.43" width="84.63" height="7.78" fill="#258BAE"/><rect x="347.50" y="457.71" width="110.44" height="7.78" fill="#FCF8F9"/><rect x="456.44" y="457.71" width="142.96" height="7.78" fill="#67A9CF"/><rect x="347.50" y="463.99" width="120.16" height="7.78" fill="#FCF8F9"/><rect x="466.16" y="463.99" width="20.94" height="7.78" fill="#E3DCED"/><rect x="485.60" y="463.99" width="113.80" height="7.78" fill="#91B6D7"/><rect x="347.50" y="470.26" width="129.88" height="7.78" fill="#FCF8F9"/><rect x="475.88" y="470.26" width="123.52" height="7.78" fill="#4698C5"/><rect x="347.50" y="476.54" width="134.74" height="7.78" fill="#FCF8F9"/><rect x="480.74" y="476.54" width="118.66" height="7.78" fill="#91B6D7"/><rect x="347.50" y="482.82" width="139.60" height="7.78" fill="#FCF8F9"/><rect x="485.60" y="482.82" width="113.80" height="7.78" fill="#91B6D7"/><rect x="347.50" y="489.09" width="149.32" height="7.78" fill="#FCF8F9"/><rect x="495.32" y="489.09" width="104.08" height="7.78" fill="#B4C4DF"/><rect x="347.50" y="495.37" width="154.18" height="7.78" fill="#FCF8F9"/><rect x="500.18" y="495.37" width="79.27" height="7.78" fill="#D0D1E6"/><rect x="577.96" y="495.37" width="21.44" height="7.78" fill="#91B6D7"/><rect x="347.50" y="501.65" width="163.91" height="7.78" fill="#FCF8F9"/><rect x="509.91" y="501.65" width="89.49" height="7.78" fill="#67A9CF"/><rect x="347.50" y="507.92" width="168.77" height="7.78" fill="#FCF8F9"/><rect x="514.77" y="507.92" width="84.63" height="7.78" fill="#67A9CF"/></g>
<path d="M351.93 521.50H594.97M351.93 521.50v5.60M356.79 521.50v5.60M361.65 521.50v5.60M366.51 521.50v5.60M371.37 521.50v5.60M376.23 521.50v5.60M381.10 521.50v5.60M385.96 521.50v5.60M390.82 521.50v5.60M395.68 521.50v5.60M400.54 521.50v5.60M405.40 521.50v5.60M410.26 521.50v5.60M415.12 521.50v5.60M419.98 521.50v5.60M424.84 521.50v5.60M429.70 521.50v5.60M434.56 521.50v5.60M439.42 521.50v5.60M444.29 521.50v5.60M449.15 521.50v5.60M454.01 521.50v5.60M458.87 521.50v5.60M463.73 521.50v5.60M468.59 521.50v5.60M473.45 521.50v5.60M478.31 521.50v5.60M483.17 521.50v5.60M488.03 521.50v5.60M492.89 521.50v5.60M497.75 521.50v5.60M502.61 521.50v5.60M507.48 521.50v5.60M512.34 521.50v5.60M517.20 521.50v5.60M522.06 521.50v5.60M526.92 521.50v5.60M531.78 521.50v5.60M536.64 521.50v5.60M541.50 521.50v5.60M546.36 521.50v5.60M551.22 521.50v5.60M556.08 521.50v5.60M560.94 521.50v5.60M565.80 521.50v5.60M570.67 521.50v5.60M575.53 521.50v5.60M580.39 521.50v5.60M585.25 521.50v5.60M590.11 521.50v5.60M594.97 521.50v5.60" stroke="#222" stroke-width="0.9" fill="none"/>
<text transform="translate(351.93 540.00) scale(0.885 1)" class="tk">1970</text>
<text transform="translate(376.23 540.00) scale(0.885 1)" class="tk">1975</text>
<text transform="translate(400.54 540.00) scale(0.885 1)" class="tk">1980</text>
<text transform="translate(424.84 540.00) scale(0.885 1)" class="tk">1985</text>
<text transform="translate(449.15 540.00) scale(0.885 1)" class="tk">1990</text>
<text transform="translate(473.45 540.00) scale(0.885 1)" class="tk">1995</text>
<text transform="translate(497.75 540.00) scale(0.885 1)" class="tk">2000</text>
<text transform="translate(522.06 540.00) scale(0.885 1)" class="tk">2005</text>
<text transform="translate(546.36 540.00) scale(0.885 1)" class="tk">2010</text>
<text transform="translate(570.67 540.00) scale(0.885 1)" class="tk">2015</text>
<text transform="translate(594.97 540.00) scale(0.885 1)" class="tk">2020</text>
<text transform="translate(472.85 559.90) scale(0.930 1)" class="al">Year</text>
<text transform="translate(474.55 302.80) scale(0.960 1)" class="tt">4. Low income (n = 30)</text>
<text transform="translate(318.70 419.90) rotate(-90) scale(0.970 1)" class="sq">Sequences</text>
<rect x="619.30" y="212.60" width="64.30" height="159.60" fill="#fff" stroke="#333" stroke-width="0.8"/>
<rect x="628.3" y="222.50" width="5.8" height="4.6" fill="#FCF8F9" stroke="#333" stroke-width="0.7"/>
<text transform="translate(643.20 228.40) scale(0.940 1)" class="lg">0 years</text>
<rect x="628.3" y="233.80" width="5.8" height="4.6" fill="#F2E9F4" stroke="#333" stroke-width="0.7"/>
<text transform="translate(643.20 239.70) scale(0.940 1)" class="lg">4 years</text>
<rect x="628.3" y="245.10" width="5.8" height="4.6" fill="#E3DCED" stroke="#333" stroke-width="0.7"/>
<text transform="translate(643.20 251.00) scale(0.940 1)" class="lg">5 years</text>
<rect x="628.3" y="256.40" width="5.8" height="4.6" fill="#D0D1E6" stroke="#333" stroke-width="0.7"/>
<text transform="translate(643.20 262.30) scale(0.940 1)" class="lg">6 years</text>
<rect x="628.3" y="267.70" width="5.8" height="4.6" fill="#B4C4DF" stroke="#333" stroke-width="0.7"/>
<text transform="translate(643.20 273.60) scale(0.940 1)" class="lg">7 years</text>
<rect x="628.3" y="279.00" width="5.8" height="4.6" fill="#91B6D7" stroke="#333" stroke-width="0.7"/>
<text transform="translate(643.20 284.90) scale(0.940 1)" class="lg">8 years</text>
<rect x="628.3" y="290.30" width="5.8" height="4.6" fill="#67A9CF" stroke="#333" stroke-width="0.7"/>
<text transform="translate(643.20 296.20) scale(0.940 1)" class="lg">9 years</text>
<rect x="628.3" y="301.60" width="5.8" height="4.6" fill="#4698C5" stroke="#333" stroke-width="0.7"/>
<text transform="translate(643.20 307.50) scale(0.940 1)" class="lg">10 years</text>
<rect x="628.3" y="312.90" width="5.8" height="4.6" fill="#258BAE" stroke="#333" stroke-width="0.7"/>
<text transform="translate(643.20 318.80) scale(0.940 1)" class="lg">11 years</text>
<rect x="628.3" y="324.20" width="5.8" height="4.6" fill="#0A8089" stroke="#333" stroke-width="0.7"/>
<text transform="translate(643.20 330.10) scale(0.940 1)" class="lg">12 years</text>
<rect x="628.3" y="335.50" width="5.8" height="4.6" fill="#017369" stroke="#333" stroke-width="0.7"/>
<text transform="translate(643.20 341.40) scale(0.940 1)" class="lg">13 years</text>
<rect x="628.3" y="346.80" width="5.8" height="4.6" fill="#015F4D" stroke="#333" stroke-width="0.7"/>
<text transform="translate(643.20 352.70) scale(0.940 1)" class="lg">14 years</text>
<rect x="628.3" y="358.10" width="5.8" height="4.6" fill="#014636" stroke="#333" stroke-width="0.7"/>
<text transform="translate(643.20 364.00) scale(0.940 1)" class="lg">15 years</text>
</svg>
</body></html>
